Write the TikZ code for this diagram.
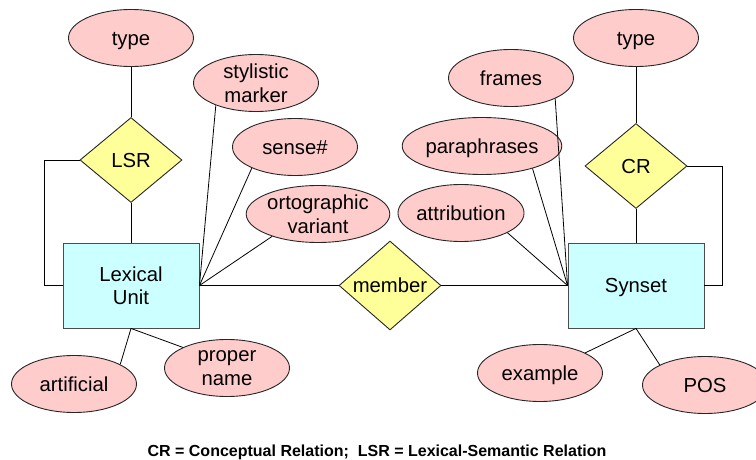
\documentclass[tikz,border=0pt]{standalone}
\usepackage{fontspec}
\setmainfont{Liberation Sans}
\usetikzlibrary{shapes.geometric}
\definecolor{attrfill}{RGB}{255,204,204}
\definecolor{relfill}{RGB}{255,255,153}
\definecolor{entfill}{RGB}{204,255,255}
\begin{document}
\begin{tikzpicture}[x=1pt,y=-1pt,
  every node/.style={font=\fontsize{20.3}{23.5}\selectfont, inner sep=0pt},
  one/.style={text height=14.5pt, text depth=0pt},
  attr/.style={ellipse, draw=black!85, line width=0.9pt, fill=attrfill, minimum width=125pt, minimum height=57pt, align=center},
  rel/.style={diamond, draw=black!85, line width=0.9pt, fill=relfill, minimum width=102pt, minimum height=85pt, one},
  ent/.style={rectangle, draw=black!70, line width=0.9pt, fill=entfill, minimum width=136pt, minimum height=85pt, align=center},
  conn/.style={draw=black, line width=0.8pt}]
\useasboundingbox (0,0) rectangle (756,460);
% left side
\node[attr,one] (typeL) at (131,38) {type};
\node[rel] (lsr) at (131,160) {LSR};
\node[ent] (lu) at (131,285.5) {Lexical\\Unit};
\node[attr] (sm) at (256,83) {stylistic\\marker};
\node[attr,one] (sense) at (295,147) {sense\#};
\node[attr] (orto) at (318,214) {ortographic\\variant};
\node[attr,one] (art) at (74,384) {artificial};
\node[attr] (pn) at (227,368) {proper\\name};
% middle
\node[rel] (mem) at (390,285.5) {member};
% right side
\node[attr,one] (typeR) at (636,38) {type};
\node[rel] (cr) at (636,166) {CR};
\node[ent,one] (syn) at (636,285.5) {Synset};
\node[attr,one] (fr) at (511,78) {frames};
\node[attr,one] (par) at (482,146) {paraphrases};
\node[attr,one] (attb) at (461,213) {attribution};
\node[attr,one] (ex) at (540,373) {example};
\node[attr,one] (pos) at (705,385) {POS};
% caption
\node[font=\fontsize{16}{19}\bfseries\selectfont, text height=11.5pt, text depth=0pt] (cap) at (377,451) {CR = Conceptual Relation;\ \ LSR = Lexical-Semantic Relation};
% connectors left
\draw[conn] (typeL) -- (lsr);
\draw[conn] (lsr) -- (lu);
\draw[conn] (lsr.west) -- ++(-35,0) |- (lu.west);
\draw[conn] (sm.209) -- (lu.east);
\draw[conn] (sense.206) -- (lu.east);
\draw[conn] (orto.206) -- (lu.east);
\draw[conn] (lu.south) -- (art.23);
\draw[conn] (lu.south) -- (pn.155);
% middle
\draw[conn] (lu.east) -- (mem.west);
\draw[conn] (mem.east) -- (syn.west);
% right
\draw[conn] (typeR) -- (cr);
\draw[conn] (cr) -- (syn);
\draw[conn] (cr.east) -- ++(35,0) |- (syn.east);
\draw[conn] (fr.335) -- (syn.west);
\draw[conn] (par.336) -- (syn.west);
\draw[conn] (attb.337) -- (syn.west);
\draw[conn] (syn.south) -- (ex.24);
\draw[conn] (syn.south) -- (pos.156);
\end{tikzpicture}
\end{document}
